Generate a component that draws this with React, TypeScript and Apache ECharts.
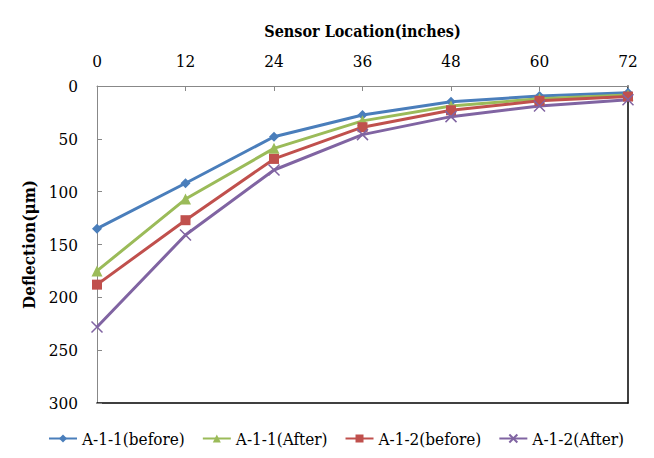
import React, { useEffect, useRef } from "react";
import * as echarts from "echarts";

const locations = [0, 12, 24, 36, 48, 60, 72];
const seriesNames = ["A-1-1(before)", "A-1-1(After)", "A-1-2(before)", "A-1-2(After)"];
const a11Before = [135, 92, 48, 27.5, 15, 9.5, 6.5];
const a11After = [175, 107, 59, 33, 19, 12, 8.5];
const a12Before = [188, 127, 69, 39, 23, 14, 10];
const a12After = [228, 141, 79.5, 46, 29, 19, 13];
const colors = ["#4A7EBB", "#9BBB59", "#C0504D", "#8064A2"];
const symbols = ["diamond", "triangle", "rect", "path://M0,0 L10,10 M10,0 L0,10"];
const symbolSizes = [10, 11, 10, 11];

const FONT = "DejaVu Serif Condensed";

export default function App() {
  const ref = useRef<HTMLDivElement>(null);
  useEffect(() => {
    if (!ref.current) return;
    const chart = echarts.init(ref.current, undefined, { renderer: "svg" });
    const all = [a11Before, a11After, a12Before, a12After];
    chart.setOption({
      animation: false,
      backgroundColor: "#ffffff",
      textStyle: { fontFamily: FONT },
      grid: { left: 97, right: 26, top: 86, bottom: 55 },
      legend: {
        top: 430,
        left: 48,
        padding: 0,
        itemGap: 17,
        itemWidth: 28,
        itemHeight: 10,
        textStyle: { fontFamily: FONT, fontSize: 17, color: "#000" },
        data: seriesNames,
      },
      xAxis: [
        {
          type: "value",
          position: "top",
          min: 0,
          max: 72,
          interval: 12,
          name: "Sensor Location(inches)",
          nameLocation: "middle",
          nameGap: 47,
          nameTextStyle: { fontFamily: FONT, fontSize: 16, fontWeight: "bold", color: "#000" },
          axisLine: { show: true, lineStyle: { color: "#888", width: 1 } },
          axisTick: { show: true, inside: true, length: 5, lineStyle: { color: "#888" } },
          axisLabel: { fontFamily: FONT, fontSize: 17, color: "#000", margin: 17 },
          splitLine: { show: false },
        },
        {
          type: "value",
          position: "bottom",
          min: 0,
          max: 72,
          interval: 12,
          axisLine: { show: true, onZero: false, lineStyle: { color: "#000", width: 1.5 } },
          axisTick: { show: false },
          axisLabel: { show: false },
          splitLine: { show: false },
        },
      ],
      yAxis: [
        {
          type: "value",
          inverse: true,
          min: 0,
          max: 300,
          interval: 50,
          name: "Deflection(μm)",
          nameLocation: "middle",
          nameGap: 57,
          nameTextStyle: { fontFamily: FONT, fontSize: 17, fontWeight: "bold", color: "#000" },
          axisLine: { show: true, onZero: false, lineStyle: { color: "#888", width: 1 } },
          axisTick: { show: true, inside: true, length: 5, lineStyle: { color: "#888" } },
          axisLabel: { fontFamily: FONT, fontSize: 17, color: "#000", margin: 19 },
          splitLine: { show: false },
        },
        {
          type: "value",
          position: "right",
          inverse: true,
          min: 0,
          max: 300,
          interval: 50,
          axisLine: { show: true, onZero: false, lineStyle: { color: "#000", width: 1.5 } },
          axisTick: { show: false },
          axisLabel: { show: false },
          splitLine: { show: false },
        },
      ],
      series: seriesNames.map((name, i) => ({
        name,
        type: "line",
        xAxisIndex: 0,
        yAxisIndex: 0,
        data: locations.map((x, j) => [x, all[i][j]]),
        symbol: symbols[i],
        symbolSize: symbolSizes[i],
        showAllSymbol: true,
        lineStyle: { color: colors[i], width: 3 },
        itemStyle: i === 3
          ? { color: colors[i], borderColor: colors[i], borderWidth: 1.5 }
          : { color: colors[i] },
      })),
    });
    return () => chart.dispose();
  }, []);
  return <div ref={ref} style={{ width: 654, height: 458, position: "absolute", left: 0, top: 0 }} />;
}
